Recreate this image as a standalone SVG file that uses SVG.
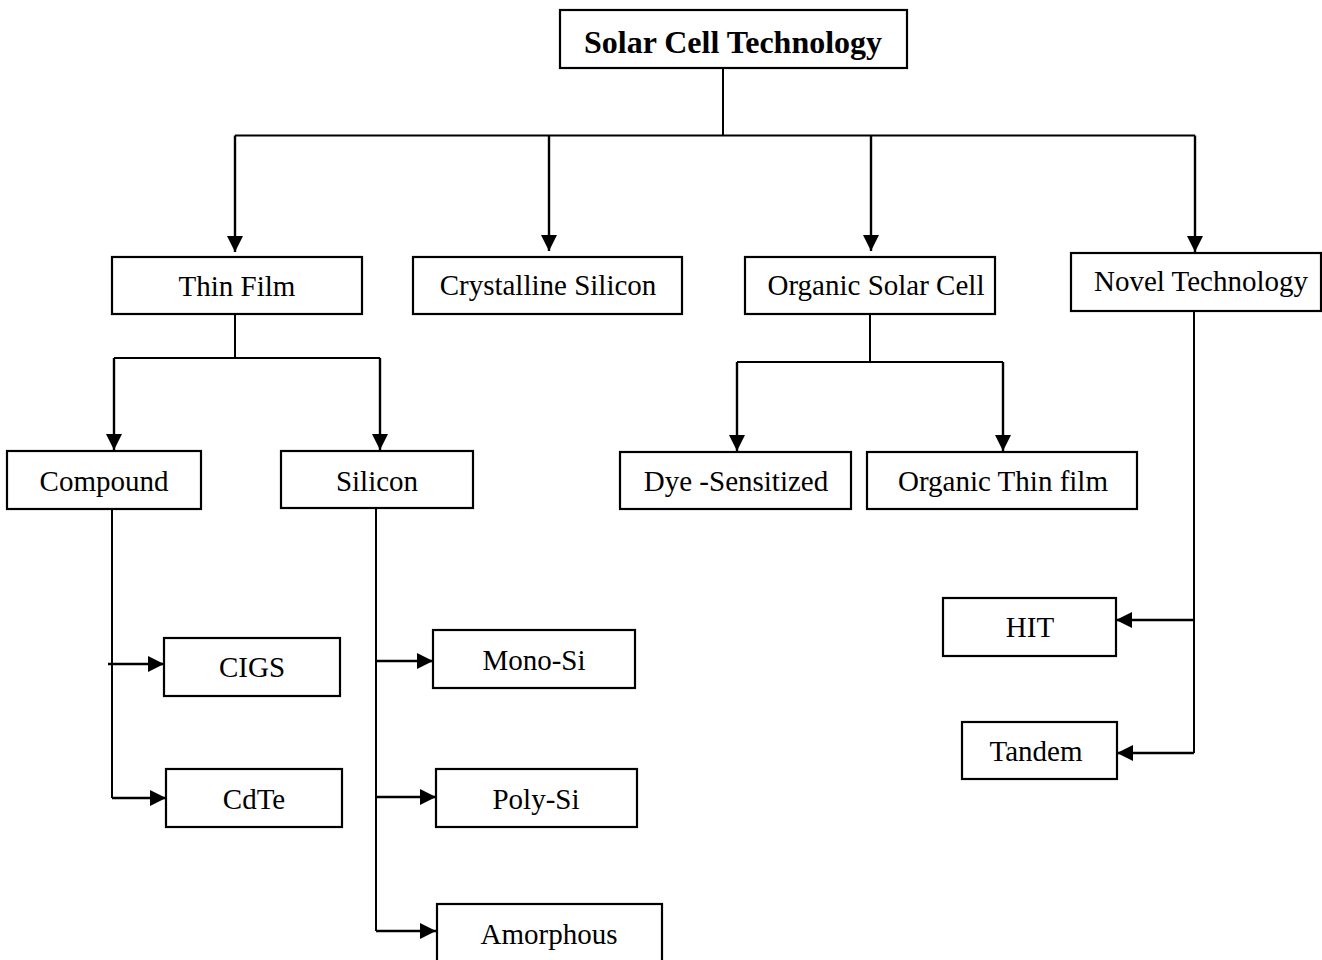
<svg xmlns="http://www.w3.org/2000/svg" width="1322" height="960" viewBox="0 0 1322 960">
  <style>
    .box { fill: #ffffff; stroke: #000000; stroke-width: 2.2; }
    .lbl { font-family: "Liberation Serif", "Times New Roman", serif; font-size: 29px; fill: #000000; text-anchor: middle; }
    .title { font-family: "Liberation Serif", "Times New Roman", serif; font-size: 32px; font-weight: bold; fill: #000000; text-anchor: middle; }
    .ln { fill: none; stroke: #000000; stroke-width: 2; }
    .arr { fill: none; stroke: #000000; stroke-width: 2.4; marker-end: url(#head); }
  </style>
  <defs>
    <marker id="head" viewBox="0 0 16 16" refX="16" refY="8" markerWidth="16" markerHeight="16" markerUnits="userSpaceOnUse" orient="auto">
      <path d="M0,0 L16,8 L0,16 Z" fill="#000000"/>
    </marker>
  </defs>

  <rect width="1322" height="960" fill="#ffffff"/>

  <!-- connectors -->
  <g id="connectors">
    <!-- root fan-out -->
    <path class="ln" d="M723,68 V135.5"/>
    <path class="ln" d="M235,135.5 H1195"/>
    <path class="arr" d="M235,135.5 V252"/>
    <path class="arr" d="M549,135.5 V251"/>
    <path class="arr" d="M871,135.5 V251"/>
    <path class="arr" d="M1195,135.5 V252"/>
    <!-- Thin Film -->
    <path class="ln" d="M235,314 V358"/>
    <path class="ln" d="M114,358 H380"/>
    <path class="arr" d="M114,358 V450"/>
    <path class="arr" d="M380,358 V450"/>
    <!-- Organic Solar Cell -->
    <path class="ln" d="M870,314 V362"/>
    <path class="ln" d="M737,362 H1003"/>
    <path class="arr" d="M737,362 V451"/>
    <path class="arr" d="M1003,362 V451"/>
    <!-- Compound -->
    <path class="ln" d="M112,509 V798"/>
    <path class="arr" d="M108,664 H164"/>
    <path class="arr" d="M112,798 H166"/>
    <!-- Silicon -->
    <path class="ln" d="M376,508 V931"/>
    <path class="arr" d="M376,661 H433"/>
    <path class="arr" d="M376,797 H436"/>
    <path class="arr" d="M376,931 H436"/>
    <!-- Novel Technology -->
    <path class="ln" d="M1194,311 V753"/>
    <path class="arr" d="M1194,620 H1116"/>
    <path class="arr" d="M1194,753 H1117"/>
  </g>

  <g id="solar-cell-technology">
    <rect class="box" x="560" y="10" width="347" height="58"/>
    <text class="title" x="733" y="53">Solar Cell Technology</text>
  </g>

  <g id="thin-film">
    <rect class="box" x="112" y="257" width="250" height="57"/>
    <text class="lbl" x="237" y="296">Thin Film</text>
  </g>
  <g id="crystalline-silicon">
    <rect class="box" x="413" y="257" width="269" height="57"/>
    <text class="lbl" x="548" y="295">Crystalline Silicon</text>
  </g>
  <g id="organic-solar-cell">
    <rect class="box" x="745" y="257" width="250" height="57"/>
    <text class="lbl" x="876" y="295">Organic Solar Cell</text>
  </g>
  <g id="novel-technology">
    <rect class="box" x="1071" y="253" width="250" height="58"/>
    <text class="lbl" x="1201" y="291">Novel Technology</text>
  </g>

  <g id="compound">
    <rect class="box" x="7" y="451" width="194" height="58"/>
    <text class="lbl" x="104" y="491">Compound</text>
  </g>
  <g id="silicon">
    <rect class="box" x="281" y="451" width="192" height="57"/>
    <text class="lbl" x="377" y="491">Silicon</text>
  </g>
  <g id="dye-sensitized">
    <rect class="box" x="620" y="452" width="231" height="57"/>
    <text class="lbl" x="736" y="491">Dye -Sensitized</text>
  </g>
  <g id="organic-thin-film">
    <rect class="box" x="867" y="452" width="270" height="57"/>
    <text class="lbl" x="1003" y="491">Organic Thin film</text>
  </g>

  <g id="cigs">
    <rect class="box" x="164" y="638" width="176" height="58"/>
    <text class="lbl" x="252" y="677">CIGS</text>
  </g>
  <g id="cdte">
    <rect class="box" x="166" y="769" width="176" height="58"/>
    <text class="lbl" x="254" y="809">CdTe</text>
  </g>

  <g id="mono-si">
    <rect class="box" x="433" y="630" width="202" height="58"/>
    <text class="lbl" x="534" y="670">Mono-Si</text>
  </g>
  <g id="poly-si">
    <rect class="box" x="436" y="769" width="201" height="58"/>
    <text class="lbl" x="536" y="809">Poly-Si</text>
  </g>
  <g id="amorphous">
    <rect class="box" x="437" y="904" width="225" height="64"/>
    <text class="lbl" x="549" y="944">Amorphous</text>
  </g>

  <g id="hit">
    <rect class="box" x="943" y="598" width="173" height="58"/>
    <text class="lbl" x="1030" y="637">HIT</text>
  </g>
  <g id="tandem">
    <rect class="box" x="962" y="722" width="155" height="57"/>
    <text class="lbl" x="1036" y="761">Tandem</text>
  </g>
</svg>
